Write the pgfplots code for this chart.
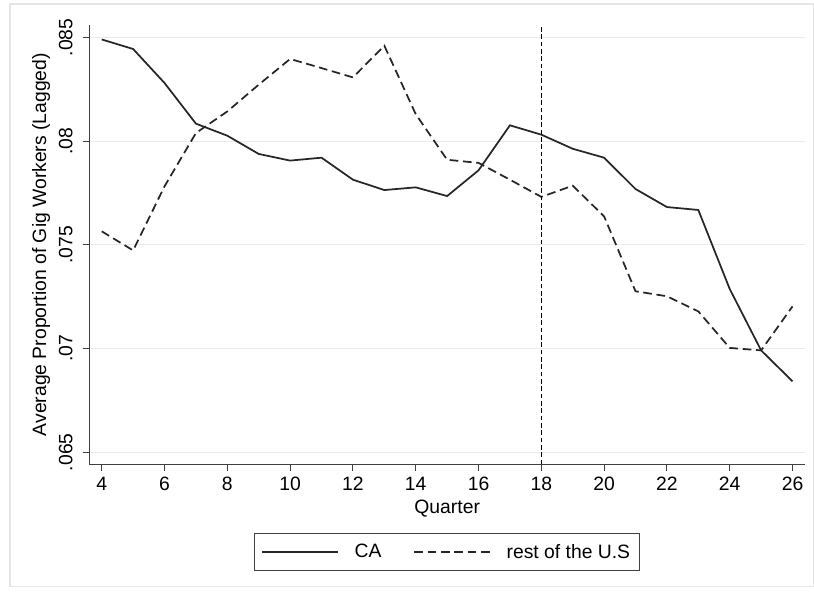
\documentclass[border=0pt]{standalone}
\usepackage{pgfplots}
\pgfplotsset{compat=1.18}
\usepackage{fontspec}
\setmainfont{Liberation Sans}
\begin{document}
\begin{tikzpicture}
\path[use as bounding box] (-67pt,-99.5pt) rectangle (543.5pt,348.2pt);
\draw[black!10, line width=0.8pt] (-59.5pt,-92pt) rectangle (542.8pt,345.2pt);
\begin{axis}[
  at={(0pt,0pt)}, anchor=south west,
  scale only axis, width=536.8pt, height=329.5pt,
  xmin=3.605, xmax=26.40, ymin=0.06442, ymax=0.0856,
  axis x line*=bottom, axis y line*=left,
  axis line style={black!75, line width=0.8pt, -},
  xtick={4,6,...,26},
  ytick={0.065,0.07,0.075,0.08,0.085},
  yticklabels={.065,.07,.075,.08,.085},
  scaled y ticks=false,
  tick align=outside, major tick length=5pt,
  tick style={black!75, line width=0.7pt},
  ymajorgrids, grid style={black!8, line width=0.8pt},
  font=\fontsize{14.5}{17}\selectfont,
  /pgf/number format/assume math mode=true,
  yticklabel style={rotate=90, anchor=south},
  yticklabel shift=4pt,
  xticklabel shift=1pt,
  xlabel={Quarter}, ylabel={Average Proportion of Gig Workers (Lagged)},
  xlabel style={at={(axis description cs:0.5,-0.1)}, anchor=center},
  ylabel style={at={(axis description cs:-0.0675,0.5)}, anchor=center},
  legend style={at={(axis description cs:0.5,-0.1997)}, anchor=center,
    legend columns=2, draw=black!75, line width=0.8pt,
    inner xsep=5pt, inner ysep=6pt,
    /tikz/every odd column/.append style={column sep=9.5pt},
    /tikz/every even column/.append style={column sep=22pt},
    font=\fontsize{14.5}{17}\selectfont},
  legend image code/.code={\draw[#1] (0pt,0pt) -- (57pt,0pt);},
]
\addplot[black!85, line width=1.3pt] table {
x y
4 0.0849
5 0.08444
6 0.0828
7 0.08084
8 0.08026
9 0.07938
10 0.07906
11 0.0792
12 0.07814
13 0.07764
14 0.07777
15 0.07735
16 0.07859
17 0.08076
18 0.08031
19 0.07963
20 0.0792
21 0.07769
22 0.07682
23 0.07668
24 0.07287
25 0.06991
26 0.06842
};
\addlegendentry{CA}
\addplot[black!85, line width=1.3pt, dash pattern=on 6.5pt off 3.5pt] table {
x y
4 0.07565
5 0.07473
6 0.07782
7 0.08039
8 0.08143
9 0.08272
10 0.08396
11 0.08352
12 0.08307
13 0.0846
14 0.0813
15 0.0791
16 0.07895
17 0.07814
18 0.07731
19 0.07785
20 0.07637
21 0.07276
22 0.07252
23 0.07179
24 0.07003
25 0.06991
26 0.07203
};
\addlegendentry{rest of the U.S}
\addplot[black, line width=1.2pt, dash pattern=on 3.5pt off 2pt, forget plot] coordinates {(18,0.06442) (18,0.0856)};
\end{axis}
\end{tikzpicture}
\end{document}
